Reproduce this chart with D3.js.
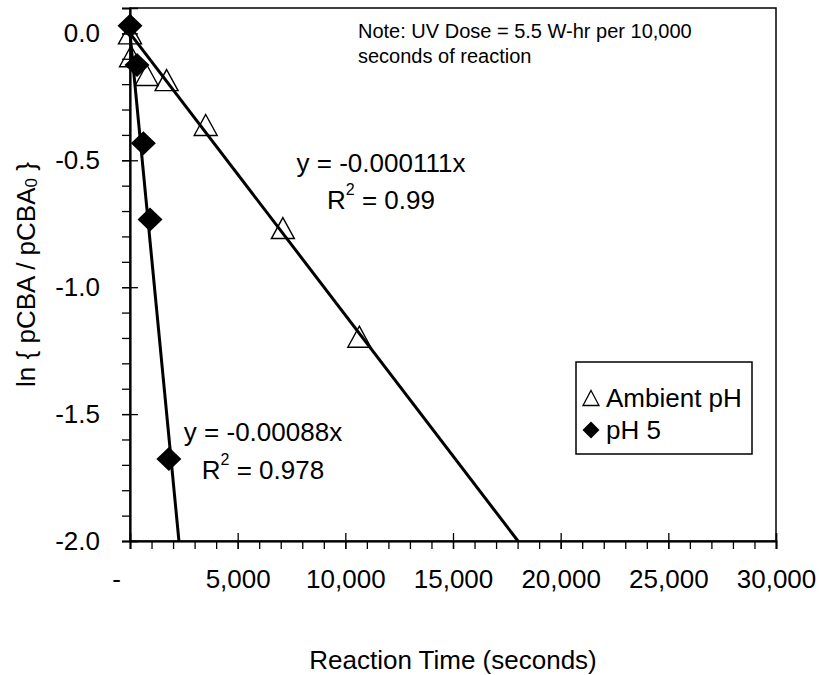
<!DOCTYPE html>
<html><head><meta charset="utf-8">
<script src="https://cdn.jsdelivr.net/npm/d3@7"></script>
<style>
body{margin:0;background:#fff}
text{font-family:"Liberation Sans",Arial,sans-serif;fill:#000}
</style>
</head><body>
<svg id="chart" width="825" height="675"></svg>
<script>
// ---- data ----
const ambientTime = [0, 50, 775, 1700, 3515, 7100, 10650];
const ambientLn   = [0.0, -0.09, -0.164, -0.184, -0.361, -0.767, -1.195];
const ph5Time = [0, 325, 620, 930, 1805];
const ph5Ln   = [0.03, -0.125, -0.433, -0.733, -1.677];
const seriesNames = ["Ambient pH", "pH 5"];
const slopes = [-0.000111, -0.00088];
const r2Labels = ["0.99", "0.978"];
const slopeLabels = ["-0.000111", "-0.00088"];
const xTicks = [0, 5000, 10000, 15000, 20000, 25000, 30000];
const xMinorTicks = d3.range(0, 30001, 1000);
const yTicks = [0.0, -0.5, -1.0, -1.5, -2.0];
const yMinorTicks = d3.range(-20, 2).map(v => v / 10);
const noteLines = ["Note: UV Dose = 5.5 W-hr per 10,000", "seconds of reaction"];

// ---- layout ----
const FS = 26;
const svg = d3.select("#chart");
const L = 130, R = 776, T = 8, B = 541;
const x = d3.scaleLinear().domain([0, 30000]).range([L, R]);
const y = d3.scaleLinear().domain([-2, 0.1]).range([B, T]);

// plot frame
svg.append("rect").attr("x", L).attr("y", T).attr("width", R - L).attr("height", B - T)
  .attr("fill", "none").attr("stroke", "#000").attr("stroke-width", 1.5);

// ---- axes ----
svg.append("g").attr("transform", `translate(0,${B})`)
  .call(d3.axisBottom(x).tickValues(xMinorTicks).tickSize(8).tickFormat(""));
svg.append("g").attr("transform", `translate(0,${B})`)
  .call(d3.axisTop(x).tickValues(xTicks).tickSize(8).tickFormat(""));
const xMajor = svg.append("g").attr("transform", `translate(0,${B})`)
  .call(d3.axisBottom(x).tickValues(xTicks).tickSize(8).tickPadding(21)
    .tickFormat(d => d === 0 ? "-" : d3.format(",")(d)));
xMajor.selectAll("text").attr("font-size", FS).attr("font-family", "Liberation Sans, Arial, sans-serif")
  .attr("dx", d => d === 0 ? -14 : 0);

svg.append("g").attr("transform", `translate(${L},0)`)
  .call(d3.axisLeft(y).tickValues(yMinorTicks).tickSize(8).tickFormat(""));
svg.append("g").attr("transform", `translate(${L},0)`)
  .call(d3.axisRight(y).tickValues(yTicks).tickSize(8).tickFormat(""));
const yMajor = svg.append("g").attr("transform", `translate(${L},0)`)
  .call(d3.axisLeft(y).tickValues(yTicks).tickSize(8).tickPadding(22)
    .tickFormat(d => d3.format(".1f")(d).replace("\u2212", "-")));
yMajor.selectAll("text").attr("font-size", FS).attr("font-family", "Liberation Sans, Arial, sans-serif");

svg.selectAll(".domain").attr("stroke", "#000").attr("stroke-width", 1.5);
svg.selectAll(".tick line").attr("stroke", "#000").attr("stroke-width", 1.3);

// ---- markers ----
const triType = { draw(ctx) { const w = 23, h = 21;
  ctx.moveTo(0, -h / 2); ctx.lineTo(w / 2, h / 2); ctx.lineTo(-w / 2, h / 2); ctx.closePath(); } };
const diaType = { draw(ctx) { const w = 12.5, h = 12;
  ctx.moveTo(0, -h); ctx.lineTo(w, 0); ctx.lineTo(0, h); ctx.lineTo(-w, 0); ctx.closePath(); } };
const triSmall = { draw(ctx) { const w = 16, h = 15;
  ctx.moveTo(0, -h / 2); ctx.lineTo(w / 2, h / 2); ctx.lineTo(-w / 2, h / 2); ctx.closePath(); } };
const diaSmall = { draw(ctx) { const w = 8.5, h = 8.5;
  ctx.moveTo(0, -h); ctx.lineTo(w, 0); ctx.lineTo(0, h); ctx.lineTo(-w, 0); ctx.closePath(); } };

svg.append("g").selectAll("path").data(ambientTime.map((t, i) => [t, ambientLn[i]])).join("path")
  .attr("d", d3.symbol(triType)())
  .attr("transform", d => `translate(${x(d[0])},${y(d[1])})`)
  .attr("fill", "none").attr("stroke", "#000").attr("stroke-width", 1.4);

svg.append("g").selectAll("path").data(ph5Time.map((t, i) => [t, ph5Ln[i]])).join("path")
  .attr("d", d3.symbol(diaType)())
  .attr("transform", d => `translate(${x(d[0])},${y(d[1])})`)
  .attr("fill", "#000");

// ---- trend lines (y = slope * x through origin, clipped at axis min) ----
const yMin = y.domain()[0];
slopes.forEach(s => {
  const xEnd = Math.min(x.domain()[1], yMin / s);
  svg.append("path").datum([0, xEnd])
    .attr("d", d3.line().x(d => x(d)).y(d => y(s * d)))
    .attr("stroke", "#000").attr("stroke-width", 3).attr("fill", "none");
});

// ---- equation labels ----
const eqPos = [[381, 163, 200], [263, 432, 470]];
slopes.forEach((s, i) => {
  const [cx, y1, y2] = eqPos[i];
  svg.append("text").attr("x", cx).attr("y", y1).attr("text-anchor", "middle")
    .attr("dominant-baseline", "central").attr("font-size", FS)
    .text(`y = ${slopeLabels[i]}x`);
  const t = svg.append("text").attr("x", cx).attr("y", y2).attr("text-anchor", "middle")
    .attr("dominant-baseline", "central").attr("font-size", FS);
  t.append("tspan").text("R");
  t.append("tspan").attr("font-size", 16).attr("dy", -11).text("2");
  t.append("tspan").attr("dy", 11).text(` = ${r2Labels[i]}`);
});

// ---- note ----
svg.append("g").selectAll("text").data(noteLines).join("text")
  .attr("x", 358).attr("y", (d, i) => 38 + i * 25).attr("font-size", 20).text(d => d);

// ---- axis titles ----
svg.append("text").attr("x", (L + R) / 2).attr("y", 660).attr("text-anchor", "middle")
  .attr("dominant-baseline", "central").attr("font-size", FS).text("Reaction Time (seconds)");
const yt = svg.append("text").attr("transform", `translate(26,${(T + B) / 2}) rotate(-90)`)
  .attr("text-anchor", "middle").attr("dominant-baseline", "central").attr("font-size", FS);
yt.append("tspan").text("ln { pCBA / pCBA");
yt.append("tspan").attr("font-size", 17).attr("dy", 5).text("0");
yt.append("tspan").attr("dy", -5).text(" }");

// ---- legend ----
const lg = svg.append("g").attr("transform", "translate(576,362)");
lg.append("rect").attr("width", 176).attr("height", 92).attr("fill", "#fff")
  .attr("stroke", "#000").attr("stroke-width", 1.5);
const legSym = [triSmall, diaSmall];
seriesNames.forEach((n, i) => {
  const row = lg.append("g").attr("transform", `translate(0,${36 + i * 32})`);
  row.append("path").attr("d", d3.symbol(legSym[i])()).attr("transform", "translate(15,0)")
    .attr("fill", i === 0 ? "none" : "#000").attr("stroke", "#000").attr("stroke-width", i === 0 ? 1.3 : 0);
  row.append("text").attr("x", 30).attr("dominant-baseline", "central").attr("font-size", FS).text(n);
});
</script>
</body></html>
